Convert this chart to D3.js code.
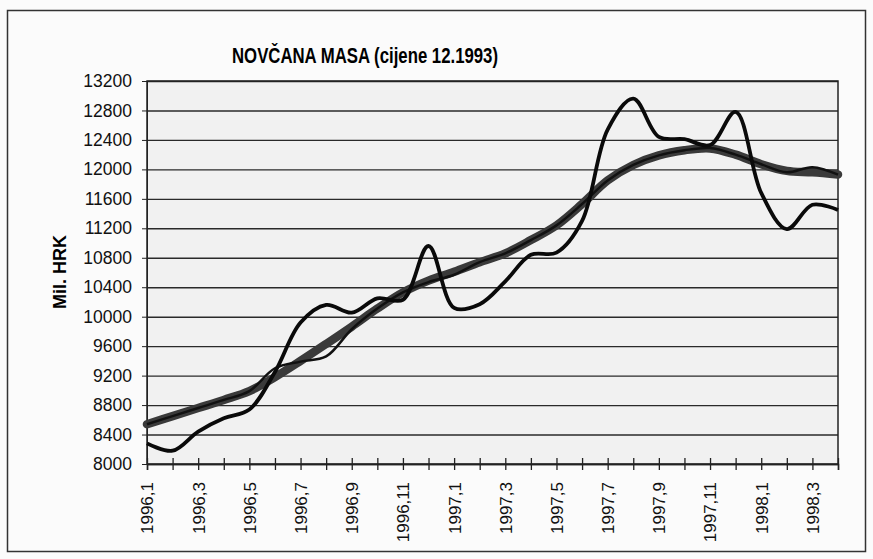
<!DOCTYPE html>
<html>
<head>
<meta charset="utf-8">
<script src="https://cdn.jsdelivr.net/npm/d3@7"></script>
<style>
  body { margin: 0; background: #fbfbfb; }
  svg { display: block; font-family: "Liberation Sans", Arial, sans-serif; }
  .axis text { fill: #111; }
  .axis path, .axis line { stroke: #222; }
</style>
</head>
<body>
<svg></svg>
<script>
// months on the category axis
const months = [
  "1996,1","1996,2","1996,3","1996,4","1996,5","1996,6","1996,7","1996,8","1996,9","1996,10","1996,11","1996,12",
  "1997,1","1997,2","1997,3","1997,4","1997,5","1997,6","1997,7","1997,8","1997,9","1997,10","1997,11","1997,12",
  "1998,1","1998,2","1998,3","1998,4"
];
// actual money supply (mil. HRK)
const actual = [8280, 8180, 8440, 8620, 8740, 9250, 9920, 10160, 10055, 10250, 10230, 10960,
  10120, 10170, 10480, 10840, 10870, 11300, 12540, 12960, 12440, 12410, 12330, 12780,
  11680, 11190, 11520, 11450];
// trend (thick grey)
const trend = [8540, 8650, 8760, 8870, 8990, 9180, 9400, 9630, 9865, 10110, 10330, 10490,
  10610, 10740, 10860, 11040, 11240, 11530, 11850, 12060, 12190, 12260, 12285, 12200,
  12070, 11980, 11960, 11930];
// trend-cycle (thin black, close to trend)
const trendCycle = [8540, 8650, 8760, 8870, 8990, 9300, 9390, 9460, 9830, 10110, 10330, 10470,
  10570, 10740, 10860, 11040, 11240, 11530, 11850, 12060, 12190, 12260, 12290, 12200,
  12070, 11960, 12030, 11930];
const yTicks = [8000, 8400, 8800, 9200, 9600, 10000, 10400, 10800, 11200, 11600, 12000, 12400, 12800, 13200];

const width = 873, height = 559;
const plot = { left: 147, right: 838, top: 81, bottom: 464 };

const svg = d3.select("svg").attr("width", width).attr("height", height);

// outer frame
svg.append("rect")
  .attr("x", 7.5).attr("y", 10.5)
  .attr("width", 858).attr("height", 541)
  .attr("fill", "none").attr("stroke", "#333").attr("stroke-width", 1.5);

// plot background
svg.append("rect")
  .attr("x", plot.left).attr("y", plot.top)
  .attr("width", plot.right - plot.left).attr("height", plot.bottom - plot.top)
  .attr("fill", "#f1f1f1");

const x = d3.scalePoint().domain(months).range([plot.left, plot.right]);
const y = d3.scaleLinear().domain([8000, 13200]).range([plot.bottom, plot.top]);

// gridlines
svg.append("g")
  .attr("transform", `translate(${plot.left},0)`)
  .call(d3.axisLeft(y).tickValues(yTicks).tickSize(-(plot.right - plot.left)).tickFormat(""))
  .call(g => g.select(".domain").remove())
  .selectAll("line").attr("stroke", "#2a2a2a").attr("stroke-width", 1.4);

// plot border
svg.append("rect")
  .attr("x", plot.left).attr("y", plot.top)
  .attr("width", plot.right - plot.left).attr("height", plot.bottom - plot.top)
  .attr("fill", "none").attr("stroke", "#222").attr("stroke-width", 1.5);

// y axis
svg.append("g")
  .attr("class", "axis")
  .attr("transform", `translate(${plot.left},0)`)
  .call(d3.axisLeft(y).tickValues(yTicks).tickSize(5).tickPadding(10).tickFormat(d3.format("d")))
  .selectAll("text").style("font-size", "17.5px");

// x axis, ticks cross the line
const xAxis = svg.append("g")
  .attr("class", "axis")
  .attr("transform", `translate(0,${plot.bottom})`)
  .call(d3.axisBottom(x).tickSize(6).tickFormat((d, i) => i % 2 === 0 ? d : ""));
xAxis.selectAll(".tick line").attr("y1", -6).attr("stroke-width", 1.3);
xAxis.select(".domain").attr("stroke-width", 1.5);
xAxis.selectAll("text")
  .style("font-size", "17px")
  .attr("text-anchor", "end")
  .attr("transform", "rotate(-90)")
  .attr("x", -18)
  .attr("y", 0)
  .attr("dy", "0.35em");

// titles
svg.append("text")
  .attr("x", 365).attr("y", 63)
  .attr("text-anchor", "middle")
  .attr("textLength", 266).attr("lengthAdjust", "spacingAndGlyphs")
  .style("font-size", "22px").style("font-weight", "bold")
  .text("NOVČANA MASA (cijene 12.1993)");

svg.append("text")
  .attr("transform", "translate(66,272) rotate(-90)")
  .attr("text-anchor", "middle")
  .style("font-size", "18px").style("font-weight", "bold")
  .text("Mil. HRK");

// lines
const line = d3.line()
  .x((d, i) => x(months[i]))
  .y(d => y(d))
  .curve(d3.curveCatmullRom.alpha(0.5));

svg.append("path").datum(trend)
  .attr("d", line).attr("fill", "none")
  .attr("stroke", "#3a3a3a").attr("stroke-width", 8.5).attr("stroke-linecap", "round");

svg.append("path").datum(trendCycle)
  .attr("d", line).attr("fill", "none")
  .attr("stroke", "#111").attr("stroke-width", 2.5);

svg.append("path").datum(actual)
  .attr("d", line).attr("fill", "none")
  .attr("stroke", "#0a0a0a").attr("stroke-width", 3.8);
</script>
</body>
</html>
